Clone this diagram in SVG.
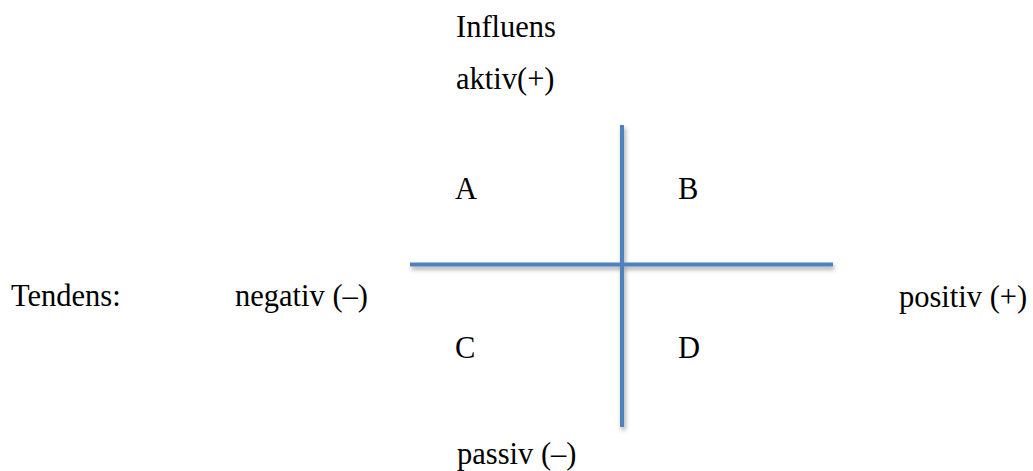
<svg xmlns="http://www.w3.org/2000/svg" width="1033" height="471" viewBox="0 0 1033 471">
<style>
text{font-family:"Liberation Serif","Times New Roman",serif;font-size:30.5px;fill:#000}
.ax{stroke:#4F81BD;stroke-width:4;fill:none;stroke-linecap:butt}
</style>
<defs>
<filter id="sh" x="-10%" y="-50%" width="120%" height="200%">
<feDropShadow dx="1.5" dy="3" stdDeviation="2" flood-color="#000" flood-opacity="0.35"/>
</filter>
</defs>
<rect width="1033" height="471" fill="#fff"/>
<g id="connectors" filter="url(#sh)">
<line class="ax" x1="410" y1="264.5" x2="833" y2="264.5"/>
<line class="ax" x1="622" y1="125" x2="622" y2="427"/>
</g>
<g id="label-influens"><text x="456" y="37">Influens</text></g>
<g id="label-aktiv"><text x="456" y="89">aktiv(+)</text></g>
<g id="node-A"><text x="455" y="199">A</text></g>
<g id="node-B"><text x="678" y="199">B</text></g>
<g id="node-C"><text x="455" y="358">C</text></g>
<g id="node-D"><text x="678" y="358">D</text></g>
<g id="label-tendens"><text x="11" y="306">Tendens:</text></g>
<g id="label-negativ"><text x="235" y="306">negativ (–)</text></g>
<g id="label-positiv"><text x="899" y="307">positiv (+)</text></g>
<g id="label-passiv"><text x="457" y="464">passiv (–)</text></g>
</svg>
